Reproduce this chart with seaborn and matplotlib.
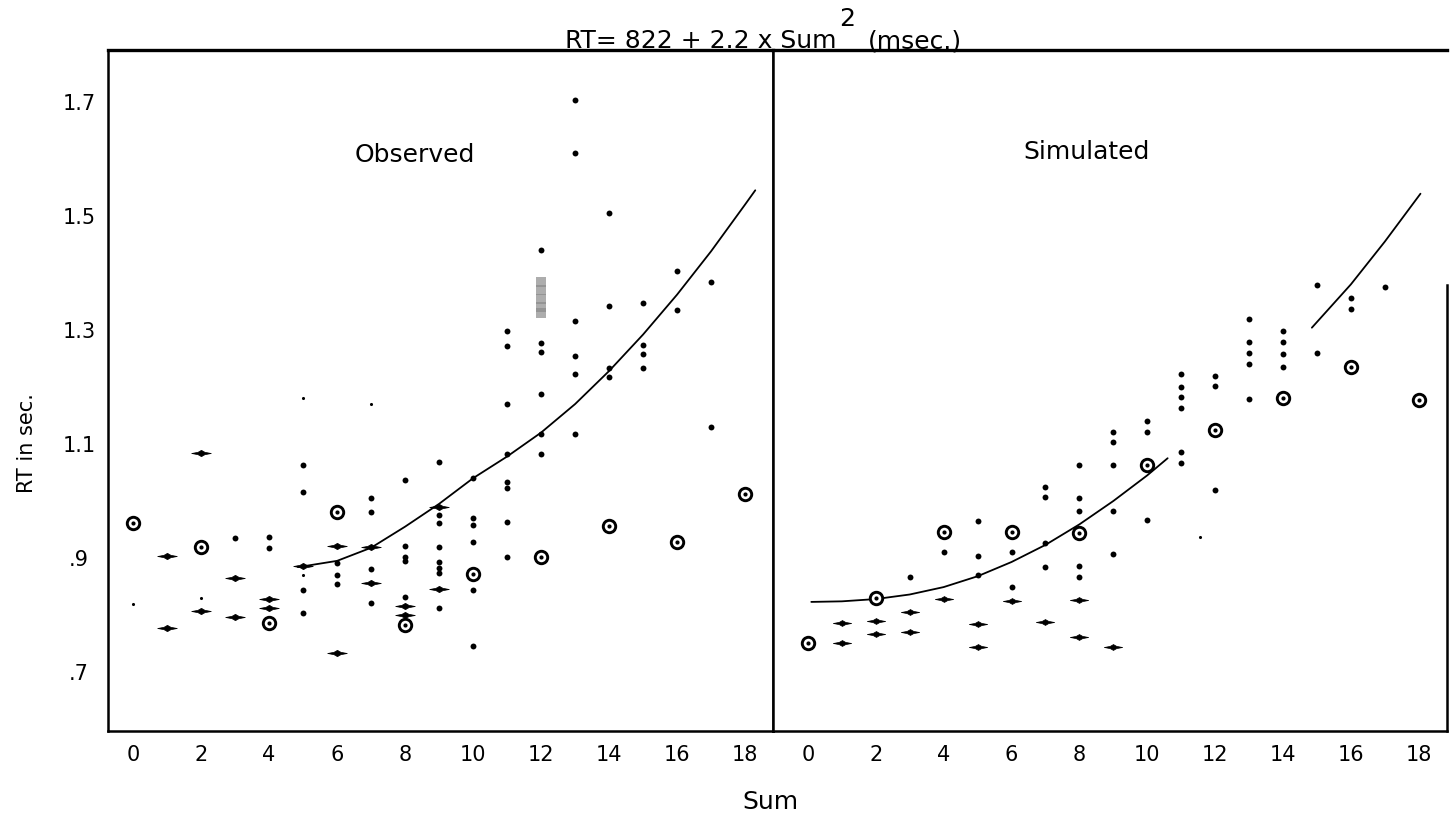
import matplotlib
matplotlib.use("Agg")
import matplotlib.pyplot as plt
import seaborn as sns
from matplotlib.path import Path

# ---------------- data ----------------
x_ticks = [0, 2, 4, 6, 8, 10, 12, 14, 16, 18]
y_ticks = [0.7, 0.9, 1.1, 1.3, 1.5, 1.7]
y_tick_labels = [".7", ".9", "1.1", "1.3", "1.5", "1.7"]

title_main = "RT= 822 + 2.2 x Sum"
title_sup = "2"
title_tail = "(msec.)"

# Observed panel
obs_mean_sum = [0, 2, 4, 6, 8, 10, 12, 14, 16, 18]
obs_mean_rt = [0.961, 0.919, 0.786, 0.981, 0.782, 0.872, 0.902, 0.956, 0.928, 1.012]

obs_bar_sum = [1, 1, 2, 2, 3, 3, 4, 4, 5, 6, 6, 7, 7, 8, 8, 9, 9]
obs_bar_rt = [0.904, 0.777, 1.084, 0.807, 0.865, 0.797, 0.828, 0.812, 0.886,
              0.921, 0.733, 0.919, 0.856, 0.816, 0.800, 0.990, 0.846]

obs_dot_sum = [3,
               4, 4,
               5, 5, 5, 5,
               6, 6, 6,
               7, 7, 7, 7,
               8, 8, 8, 8, 8,
               9, 9, 9, 9, 9, 9, 9, 9,
               10, 10, 10, 10, 10, 10,
               11, 11, 11, 11, 11, 11, 11, 11,
               12, 12, 12, 12, 12, 12,
               13, 13, 13, 13, 13, 13,
               14, 14, 14, 14,
               15, 15, 15, 15,
               16, 16,
               17, 17]
obs_dot_rt = [0.935,
              0.937, 0.918,
              1.063, 1.016, 0.844, 0.803,
              0.891, 0.870, 0.854,
              1.005, 0.980, 0.880, 0.821,
              1.037, 0.921, 0.902, 0.895, 0.832,
              1.068, 0.975, 0.961, 0.919, 0.893, 0.882, 0.874, 0.812,
              1.040, 0.970, 0.958, 0.928, 0.844, 0.746,
              1.298, 1.272, 1.170, 1.082, 1.033, 1.023, 0.963, 0.902,
              1.440, 1.277, 1.261, 1.188, 1.118, 1.082,
              1.703, 1.610, 1.316, 1.254, 1.223, 1.118,
              1.505, 1.342, 1.233, 1.218,
              1.347, 1.274, 1.258, 1.233,
              1.404, 1.335,
              1.384, 1.130]

obs_tiny_sum = [0, 2, 5, 5, 7]
obs_tiny_rt = [0.820, 0.830, 0.870, 1.180, 1.170]

obs_smudge_sum = [12, 12, 12, 12, 12]
obs_smudge_rt = [1.385, 1.370, 1.355, 1.340, 1.330]

obs_curve_sum = [4.85, 6, 7, 8, 9, 10, 11, 12, 13, 14, 15, 16, 17, 18, 18.3]
obs_curve_rt = [0.884, 0.895, 0.918, 0.955, 0.995, 1.040, 1.078, 1.120, 1.170,
                1.228, 1.292, 1.362, 1.438, 1.520, 1.545]

# Simulated panel
sim_mean_sum = [0, 2, 4, 6, 8, 10, 12, 14, 16, 18]
sim_mean_rt = [0.751, 0.830, 0.946, 0.946, 0.944, 1.063, 1.125, 1.181, 1.235, 1.177]

sim_bar_sum = [1, 1, 2, 2, 3, 3, 4, 5, 5, 6, 7, 8, 8, 9]
sim_bar_rt = [0.786, 0.751, 0.789, 0.767, 0.805, 0.770, 0.828, 0.784, 0.744,
              0.825, 0.788, 0.826, 0.761, 0.744]

sim_dot_sum = [3,
               4,
               5, 5, 5,
               6, 6,
               7, 7, 7, 7,
               8, 8, 8, 8, 8,
               9, 9, 9, 9, 9,
               10, 10, 10,
               11, 11, 11, 11, 11, 11,
               12, 12, 12,
               13, 13, 13, 13, 13,
               14, 14, 14, 14,
               15, 15,
               16, 16,
               17]
sim_dot_rt = [0.867,
              0.911,
              0.965, 0.904, 0.870,
              0.911, 0.849,
              1.025, 1.007, 0.926, 0.884,
              1.063, 1.005, 0.982, 0.886, 0.867,
              1.121, 1.104, 1.063, 0.982, 0.907,
              1.140, 1.121, 0.967,
              1.223, 1.200, 1.182, 1.163, 1.086, 1.067,
              1.219, 1.202, 1.019,
              1.319, 1.279, 1.260, 1.240, 1.179,
              1.298, 1.279, 1.258, 1.235,
              1.379, 1.260,
              1.356, 1.337,
              1.375]

sim_tiny_sum = [11.55]
sim_tiny_rt = [0.937]

sim_curve1_sum = [0.1, 1, 2, 3, 4, 5, 6, 7, 8, 9, 10, 10.6]
sim_curve1_rt = [0.823, 0.824, 0.828, 0.836, 0.849, 0.868, 0.893, 0.923, 0.959,
                 1.000, 1.045, 1.075]
sim_curve2_sum = [14.85, 16, 17, 18.05]
sim_curve2_rt = [1.304, 1.380, 1.455, 1.539]

# ---------------- style ----------------
sns.set_theme(style="white")
plt.rcParams["font.family"] = ["DejaVu Sans"]
plt.rcParams["text.color"] = "black"
plt.rcParams["axes.labelcolor"] = "black"
plt.rcParams["xtick.color"] = "black"
plt.rcParams["ytick.color"] = "black"

lens = Path([(-1, 0), (-0.35, 0.12), (0, 0.32), (0.35, 0.12), (1, 0),
             (0.35, -0.12), (0, -0.32), (-0.35, -0.12), (-1, 0)],
            [Path.MOVETO] + [Path.LINETO] * 7 + [Path.CLOSEPOLY])

fig = plt.figure(figsize=(14.51, 8.19), dpi=100)
ax1 = fig.add_axes([0.0744, 0.1074, 0.4583, 0.8315])
ax2 = fig.add_axes([0.5327, 0.1074, 0.4645, 0.8315])

ylim = (0.5965, 1.791)


def draw_panel(ax, curves, dot_s, dot_r, tiny_s, tiny_r, bar_s, bar_r,
               mean_s, mean_r, bar_size):
    for cs, cr in curves:
        sns.lineplot(x=cs, y=cr, ax=ax, color="black", lw=1.3, sort=False,
                     estimator=None, zorder=2)
    sns.scatterplot(x=dot_s, y=dot_r, ax=ax, color="black", s=18,
                    linewidth=0, zorder=3)
    sns.scatterplot(x=tiny_s, y=tiny_r, ax=ax, color="black", s=5,
                    linewidth=0, zorder=3)
    sns.scatterplot(x=bar_s, y=bar_r, ax=ax, color="black", marker=lens,
                    s=bar_size, linewidth=0.5, edgecolor="black", zorder=3)
    sns.scatterplot(x=mean_s, y=mean_r, ax=ax, color="white", s=80,
                    edgecolor="black", linewidth=2.1, zorder=4)
    sns.scatterplot(x=mean_s, y=mean_r, ax=ax, color="black", s=9,
                    linewidth=0, zorder=5)


draw_panel(ax1, [(obs_curve_sum, obs_curve_rt)], obs_dot_sum, obs_dot_rt,
           obs_tiny_sum, obs_tiny_rt, obs_bar_sum, obs_bar_rt,
           obs_mean_sum, obs_mean_rt, 200)
sns.scatterplot(x=obs_smudge_sum, y=obs_smudge_rt, ax=ax1, color="#8a8a8a",
                marker="s", s=60, linewidth=0, alpha=0.7, zorder=3)

draw_panel(ax2, [(sim_curve1_sum, sim_curve1_rt), (sim_curve2_sum, sim_curve2_rt)],
           sim_dot_sum, sim_dot_rt, sim_tiny_sum, sim_tiny_rt,
           sim_bar_sum, sim_bar_rt, sim_mean_sum, sim_mean_rt, 175)

ax1.set_xlim(-0.74, 18.82)
ax2.set_xlim(-1.03, 18.83)

for ax in (ax1, ax2):
    ax.set_ylim(*ylim)
    ax.set_xticks(x_ticks)
    ax.set_xticklabels([str(v) for v in x_ticks])
    ax.set_yticks(y_ticks)
    ax.tick_params(axis="x", length=0, pad=10, labelsize=15, colors="black")
    ax.tick_params(axis="y", direction="in", length=7, width=1.5,
                   colors="black", labelsize=15)
    ax.set_xlabel("")
    ax.set_ylabel("")
    ax.grid(False)
    for sp in ax.spines.values():
        sp.set_visible(True)
        sp.set_color("black")
        sp.set_linewidth(1.8)
    ax.spines["top"].set_linewidth(2.4)

ax1.set_yticklabels(y_tick_labels)
ax1.tick_params(axis="y", pad=21)
for lbl in ax1.get_yticklabels():
    lbl.set_ha("center")
ax2.set_yticklabels([])
ax2.spines["right"].set_bounds(ylim[0], 1.379)

ax1.text(8.3, 1.607, "Observed", ha="center", va="center", fontsize=18,
         color="black")
ax2.text(8.22, 1.612, "Simulated", ha="center", va="center", fontsize=18,
         color="black")

fig.text(27 / 1451, 1 - 443 / 819, "RT in sec.", rotation=90,
         ha="center", va="center", fontsize=15, color="black")
fig.text(770 / 1451, 1 - 802 / 819, "Sum", ha="center", va="center",
         fontsize=18, color="black")

W, H = fig.get_size_inches() * fig.dpi
t1 = fig.text(565 / W, 1 - 48 / H, title_main, ha="left", va="baseline",
              fontsize=18, color="black")
fig.canvas.draw()
bb = t1.get_window_extent()
t2 = fig.text((bb.x1 + 3) / W, 1 - 26 / H, title_sup, ha="left",
              va="baseline", fontsize=18, color="black")
fig.canvas.draw()
bb2 = t2.get_window_extent()
fig.text((bb2.x1 + 12) / W, 1 - 48 / H, title_tail, ha="left",
         va="baseline", fontsize=18, color="black")

fig.savefig("out.png", dpi=100)
